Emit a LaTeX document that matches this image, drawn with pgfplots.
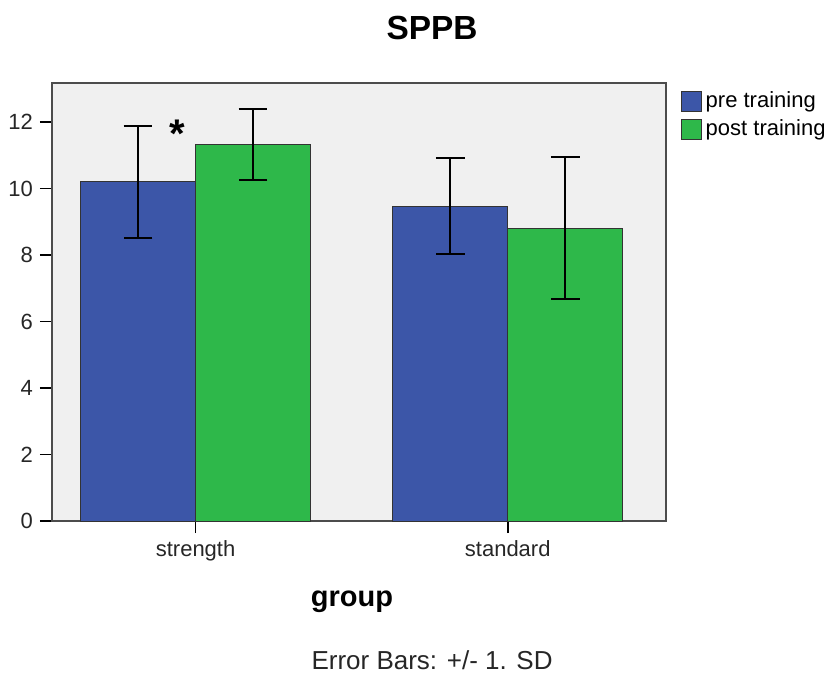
\documentclass[border=0pt]{standalone}
\usepackage{pgfplots}
\pgfplotsset{compat=1.18}
\usepackage{fontspec}
\setmainfont{Liberation Sans}
\definecolor{preblue}{HTML}{3C56A8}
\definecolor{postgreen}{HTML}{2EB84A}
\definecolor{bggray}{HTML}{F0F0F0}
\begin{document}
\begin{tikzpicture}
\path[use as bounding box] (-26pt,-78pt) rectangle (387.5pt,260.5pt);
\begin{axis}[
  scale only axis,
  width=307pt, height=219pt,
  ybar=0pt, bar width=57.5pt,
  xmin=-0.46, xmax=1.507,
  ymin=0, ymax=13.17,
  xtick={0,1}, xticklabels={strength,standard},
  ytick={0,2,4,6,8,10,12},
  tick align=outside, major tick length=6pt,
  xtick pos=bottom, ytick pos=left,
  tick style={black, line width=0.8pt},
  axis background/.style={fill=bggray},
  axis line style={black!70, line width=0.9pt},
  ticklabel style={font=\fontsize{11}{13}\selectfont, text=black!85},
  /pgf/number format/assume math mode=true,
  legend style={at={(1.023,0.99)}, anchor=north west, draw=none, fill=none,
    font=\fontsize{11}{13}\selectfont, row sep=0.5pt, inner sep=0pt,
    /tikz/every even column/.append style={column sep=2pt}},
  legend cell align=left,
  legend image code/.code={\draw[#1, draw=black!80, line width=0.6pt] (0pt,-5pt) rectangle (10pt,5pt);},
  error bars/error bar style={black, line width=1pt},
  error bars/error mark options={rotate=90, mark size=7.2pt, line width=1pt, black},
  clip=false,
]
\addplot[fill=preblue, draw=black!80, line width=0.5pt,
  error bars/.cd, y dir=both, y explicit]
  coordinates {(0,10.2) +- (0,1.69) (1,9.47) +- (0,1.43)};
\addplot[fill=postgreen, draw=black!80, line width=0.5pt,
  error bars/.cd, y dir=both, y explicit]
  coordinates {(0,11.31) +- (0,1.07) (1,8.81) +- (0,2.13)};
\legend{pre training, post training}
\node[font=\bfseries\fontsize{20}{22}\selectfont] at (axis cs:-0.058,11.65) {*};
\node[font=\bfseries\fontsize{16.7}{19}\selectfont] at (rel axis cs:0.619,1.1256) {SPPB};
\node[font=\bfseries\fontsize{14.5}{17}\selectfont] at (rel axis cs:0.4886,-0.184) {group};
\node[font=\fontsize{13}{15}\selectfont, text=black!85] at (rel axis cs:0.619,-0.317) {Error Bars: +/- 1. SD};
\end{axis}
\end{tikzpicture}
\end{document}
